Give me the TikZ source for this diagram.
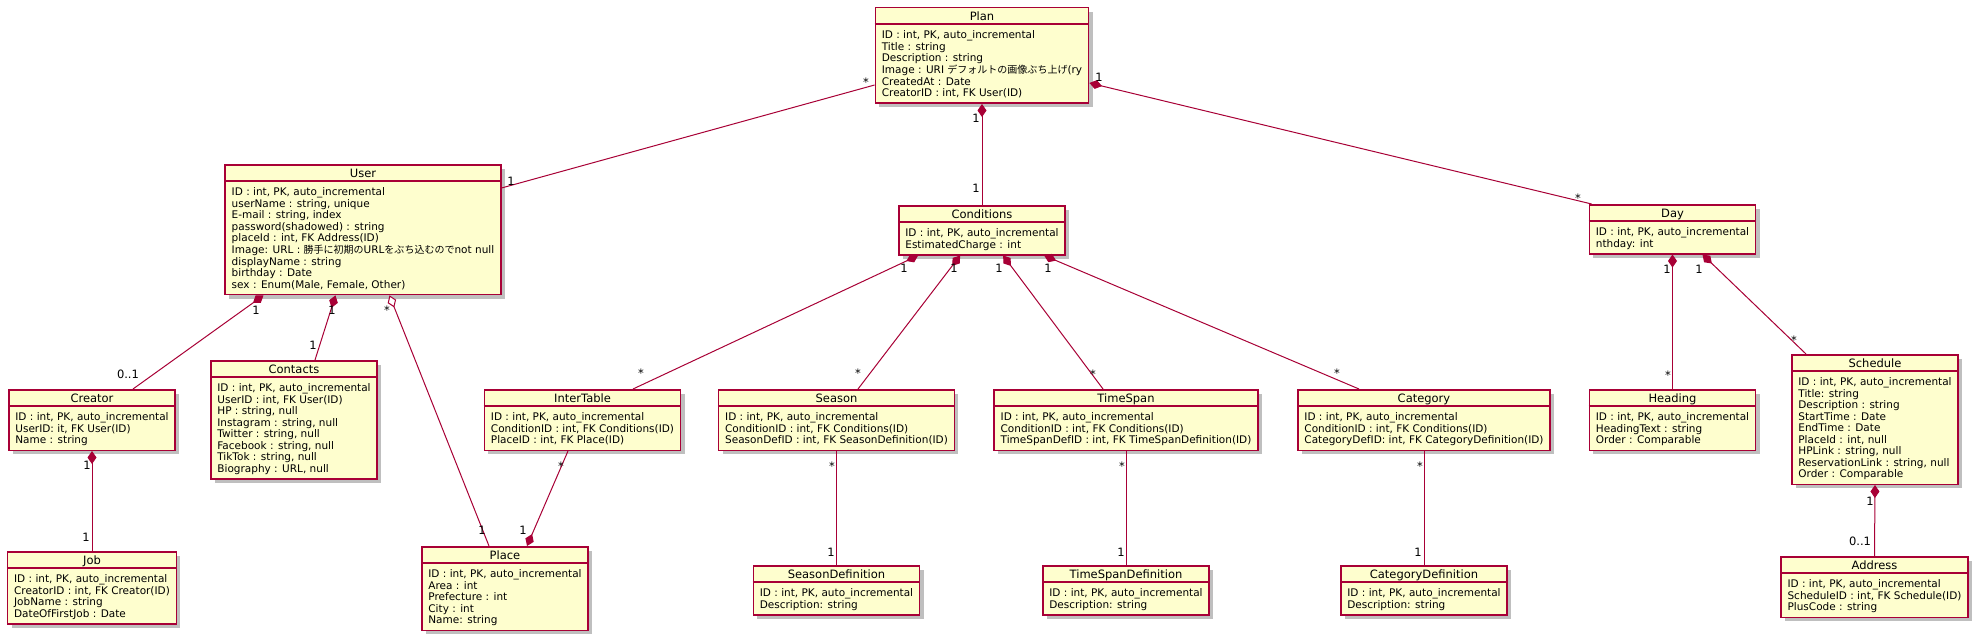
\documentclass[tikz,border=0pt]{standalone}
\usepackage{fontspec}
\setmainfont{DejaVu Sans}
\newfontfamily\jpfont{Noto Sans CJK JP}
\usetikzlibrary{arrows.meta,shadows}
\definecolor{umlred}{HTML}{A80036}
\definecolor{umlfill}{HTML}{FEFECE}
\newcommand\jp[1]{{\jpfont\fontsize{10}{11.5}\selectfont #1}}
\newcommand\umltitlefont{\fontsize{11.5}{13}\selectfont}
\newcommand\umlclass[5]{%
  \node[umlbox] (#1) at (#2,-#3) {\begin{tabular}[t]{@{}l@{}}%
    \multicolumn{1}{@{}c@{}}{\umltitlefont\rule[-4.5pt]{0pt}{17pt}#4}\\
    \rule{0pt}{14pt}#5\rule[-6.5pt]{0pt}{0pt}\end{tabular}};
  \draw[umlsep] ([yshift=-17pt]#1.north west) -- ([yshift=-17pt]#1.north east);
}
\newcommand\mult[4]{\node[mult] (#1) at (#2,-#3) {#4};}
\newcommand\multstar[3]{\node[mult] (#1) at (#2,{-#3-2.4}) {*};}
\begin{document}
\begin{tikzpicture}[x=1pt,y=1pt,
  umlbox/.style={draw=umlred, line width=1.5pt, fill=umlfill, anchor=north,
    inner xsep=6.5pt, inner ysep=0pt, font=\fontsize{10.5}{11.5}\selectfont,
    drop shadow={shadow xshift=4pt, shadow yshift=-4pt, fill=black, opacity=0.25}},
  umlsep/.style={draw=umlred, line width=1.5pt},
  conn/.style={draw=umlred, line width=1pt},
  comp/.style={conn, {Diamond[length=13pt,width=9pt,fill=umlred]}-},
  agg/.style={conn, {Diamond[open,length=13pt,width=9pt,fill=white]}-},
  mult/.style={inner sep=0pt, text=black, font=\fontsize{11.5}{13}\selectfont}]
\useasboundingbox (0,0) rectangle (1982,-642);
\fill[white] (0,0) rectangle (1982,-642);

\umlclass{plan}{982}{7}{Plan}{ID : int, PK, auto\_incremental\\Title : string\\Description : string\\Image : URI \jp{デフォルトの画像ぶち上げ}(ry\\CreatedAt : Date\\CreatorID : int, FK User(ID)}
\umlclass{user}{363}{164}{User}{ID : int, PK, auto\_incremental\\userName : string, unique\\E-mail : string, index\\password(shadowed) : string\\placeId : int, FK Address(ID)\\Image: URL : \jp{勝手に初期の}URL\jp{をぶち込むので}not null\\displayName : string\\birthday : Date\\sex : Enum(Male, Female, Other)}
\umlclass{cond}{982}{205}{Conditions}{ID : int, PK, auto\_incremental\\EstimatedCharge : int}
\umlclass{day}{1672.5}{204}{Day}{ID : int, PK, auto\_incremental\\nthday: int}
\umlclass{creator}{92}{389}{Creator}{ID : int, PK, auto\_incremental\\UserID: it, FK User(ID)\\Name : string}
\umlclass{contacts}{294}{360}{Contacts}{ID : int, PK, auto\_incremental\\UserID : int, FK User(ID)\\HP : string, null\\Instagram : string, null\\Twitter : string, null\\Facebook : string, null\\TikTok : string, null\\Biography : URL, null}
\umlclass{inter}{582.5}{389}{InterTable}{ID : int, PK, auto\_incremental\\ConditionID : int, FK Conditions(ID)\\PlaceID : int, FK Place(ID)}
\umlclass{season}{836.5}{389}{Season}{ID : int, PK, auto\_incremental\\ConditionID : int, FK Conditions(ID)\\SeasonDefID : int, FK SeasonDefinition(ID)}
\umlclass{timespan}{1126}{389}{TimeSpan}{ID : int, PK, auto\_incremental\\ConditionID : int, FK Conditions(ID)\\TimeSpanDefID : int, FK TimeSpanDefinition(ID)}
\umlclass{category}{1424}{389}{Category}{ID : int, PK, auto\_incremental\\ConditionID : int, FK Conditions(ID)\\CategoryDefID: int, FK CategoryDefinition(ID)}
\umlclass{heading}{1672.5}{389}{Heading}{ID : int, PK, auto\_incremental\\HeadingText : string\\Order : Comparable}
\umlclass{schedule}{1875}{354}{Schedule}{ID : int, PK, auto\_incremental\\Title: string\\Description : string\\StartTime : Date\\EndTime : Date\\PlaceId : int, null\\HPLink : string, null\\ReservationLink : string, null\\Order : Comparable}
\umlclass{job}{92}{551}{Job}{ID : int, PK, auto\_incremental\\CreatorID : int, FK Creator(ID)\\JobName : string\\DateOfFirstJob : Date}
\umlclass{place}{505}{546}{Place}{ID : int, PK, auto\_incremental\\Area : int\\Prefecture : int\\City : int\\Name: string}
\umlclass{seasondef}{836.5}{565}{SeasonDefinition}{ID : int, PK, auto\_incremental\\Description: string}
\umlclass{timespandef}{1126}{565}{TimeSpanDefinition}{ID : int, PK, auto\_incremental\\Description: string}
\umlclass{categorydef}{1424}{565}{CategoryDefinition}{ID : int, PK, auto\_incremental\\Description: string}
\umlclass{address}{1874.5}{556}{Address}{ID : int, PK, auto\_incremental\\ScheduleID : int, FK Schedule(ID)\\PlusCode : string}

% connectors
\draw[conn] ([yshift=-78pt]plan.north west) -- ([yshift=-24pt]user.north east);
\draw[comp] (plan.south) -- (cond.north);
\draw[comp] ([yshift=-76pt]plan.north east) -- ([xshift=3pt]day.north west);
\draw[comp] ([xshift=39pt]user.south west) -- ([xshift=41pt]creator.north);
\draw[comp] ([xshift=111pt]user.south west) -- ([xshift=21pt]contacts.north);
\draw[agg] ([xshift=165pt]user.south west) -- ([xshift=-16pt]place.north);
\draw[comp] ([xshift=22pt]place.north) -- ([xshift=-14.5pt]inter.south);
\draw[comp] ([xshift=20pt]cond.south west) -- ([xshift=50.5pt]inter.north);
\draw[comp] ([xshift=62pt]cond.south west) -- ([xshift=21.5pt]season.north);
\draw[comp] ([xshift=105pt]cond.south west) -- ([xshift=-23pt]timespan.north);
\draw[comp] ([xshift=146pt]cond.south west) -- ([xshift=-65pt]category.north);
\draw[conn] (season.south) -- (seasondef.north);
\draw[conn] (timespan.south) -- (timespandef.north);
\draw[conn] (category.south) -- (categorydef.north);
\draw[comp] (creator.south) -- (job.north);
\draw[comp] (day.south) -- (heading.north);
\draw[comp] ([xshift=30pt]day.south) -- ([xshift=-69pt]schedule.north);
\draw[comp] (schedule.south) -- (address.north);

% multiplicities
\multstar{m1}{866}{80}
\mult{m2}{511}{181}{1}
\mult{m3}{976}{118}{1}
\mult{m4}{976}{188}{1}
\mult{m5}{1099}{77}{1}
\multstar{m6}{1578}{196}
\mult{m7}{256}{310}{1}
\mult{m8}{128}{374}{0..1}
\mult{m9}{332}{310}{1}
\mult{m10}{313}{345}{1}
\multstar{m11}{387}{308}
\mult{m12}{482}{530}{1}
\multstar{m13}{561}{464}
\mult{m14}{523}{530}{1}
\mult{m15}{904}{268}{1}
\multstar{m16}{641}{371}
\mult{m17}{954}{268}{1}
\multstar{m18}{858}{371}
\mult{m19}{999}{268}{1}
\multstar{m20}{1093}{372}
\mult{m21}{1048}{268}{1}
\multstar{m22}{1337}{371}
\multstar{m23}{832}{464}
\mult{m24}{831}{552}{1}
\multstar{m25}{1122}{464}
\mult{m26}{1121}{552}{1}
\multstar{m27}{1420}{464}
\mult{m28}{1418}{552}{1}
\mult{m29}{87}{465}{1}
\mult{m30}{86}{537}{1}
\mult{m31}{1667}{269}{1}
\multstar{m32}{1668}{373}
\mult{m33}{1699}{269}{1}
\multstar{m34}{1794}{338}
\mult{m35}{1870}{501}{1}
\mult{m36}{1860}{541}{0..1}
\end{tikzpicture}
\end{document}
